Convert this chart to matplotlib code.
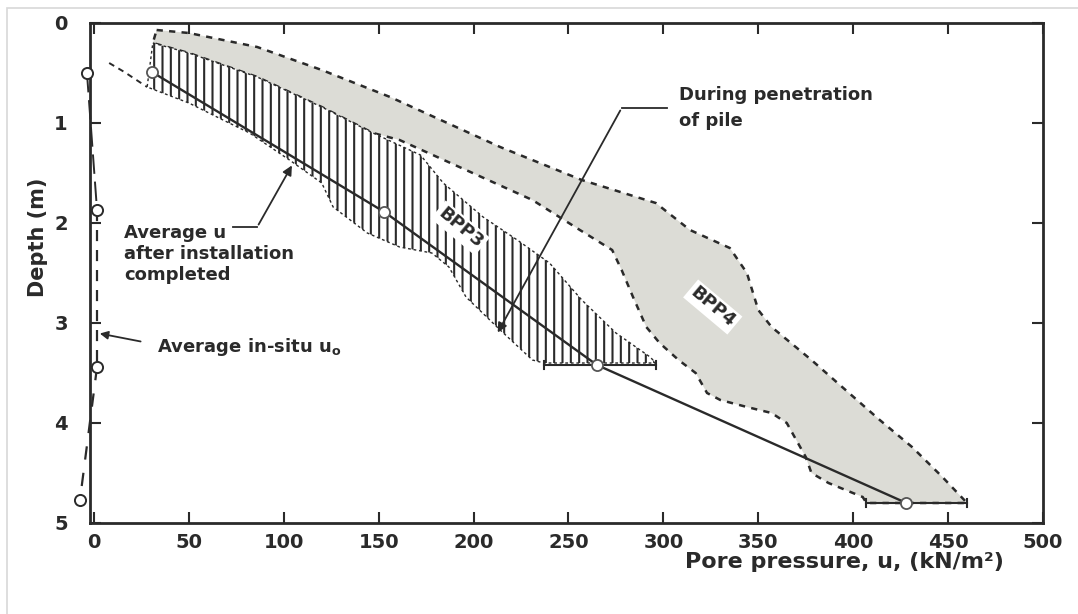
import matplotlib.pyplot as plt
from matplotlib.patches import Polygon, Rectangle

# data: pore pressure (kN/m2) vs depth (m)

# BPP4 band (stippled) - upper edge then lower edge back up
bpp4_upper_u = [33, 50, 86, 120, 156, 214, 257, 296, 314, 335, 344, 350, 357, 378, 396, 414, 431, 447, 460]
bpp4_upper_z = [0.07, 0.10, 0.24, 0.47, 0.74, 1.24, 1.57, 1.80, 2.07, 2.25, 2.50, 2.87, 3.04, 3.37, 3.67, 3.97, 4.24, 4.54, 4.80]
bpp4_lower_u = [407, 405, 387, 378, 375, 370, 365, 357, 344, 330, 323, 317, 308, 298, 291, 284, 278, 273, 256, 231, 196, 161, 147, 120, 86, 50, 31]
bpp4_lower_z = [4.80, 4.74, 4.60, 4.50, 4.34, 4.17, 4.00, 3.90, 3.84, 3.77, 3.70, 3.50, 3.37, 3.20, 3.04, 2.74, 2.47, 2.27, 2.07, 1.77, 1.47, 1.17, 1.10, 0.84, 0.54, 0.30, 0.20]

# BPP3 band (hatched)
bpp3_upper_u = [31, 50, 86, 120, 147, 172, 184, 205, 223, 240, 257, 275, 293, 296]
bpp3_upper_z = [0.20, 0.30, 0.54, 0.84, 1.10, 1.32, 1.60, 1.94, 2.17, 2.40, 2.77, 3.10, 3.34, 3.40]
bpp3_lower_u = [237, 231, 214, 196, 187, 178, 161, 144, 126, 120, 103, 82, 68, 50, 28]
bpp3_lower_z = [3.40, 3.37, 3.07, 2.74, 2.44, 2.30, 2.24, 2.10, 1.84, 1.60, 1.37, 1.10, 0.97, 0.80, 0.64]
bpp3_tail_u = [8, 16, 28]
bpp3_tail_z = [0.40, 0.49, 0.64]

# average u after installation completed
avg_u = [30.5, 153, 265, 428]
avg_z = [0.49, 1.89, 3.42, 4.80]
err_lo = [None, None, 237, 407]
err_hi = [None, None, 296, 460]

# average in-situ u0
insitu_u = [-3.7, 1.6, 1.6, -7.4]
insitu_z = [0.50, 1.87, 3.44, 4.77]

plt.rcParams['font.family'] = 'DejaVu Sans'
plt.rcParams['hatch.linewidth'] = 1.5

fig = plt.figure(figsize=(10.78, 6.14), dpi=100)
ax = fig.add_axes([90 / 1078, 1 - 523 / 614, 953 / 1078, 500 / 614])

ink = '#2a2a2a'

# BPP4
poly4 = Polygon(list(zip(bpp4_upper_u + bpp4_lower_u, bpp4_upper_z + bpp4_lower_z)),
                closed=True, facecolor='#dcdcd6', edgecolor=ink, linestyle=(0, (2.5, 2.5)),
                linewidth=1.8, zorder=1)
ax.add_patch(poly4)

# BPP3
poly3 = Polygon(list(zip(bpp3_upper_u + bpp3_lower_u, bpp3_upper_z + bpp3_lower_z)),
                closed=True, facecolor='white', edgecolor=ink, linestyle=(0, (2, 2)),
                linewidth=1.0, hatch='||', zorder=2)
ax.add_patch(poly3)
ax.plot(bpp3_tail_u, bpp3_tail_z, color=ink, linestyle=(0, (3, 2.5)), linewidth=1.4, zorder=3)

# average u line + circles + range bars
ax.plot(avg_u, avg_z, color=ink, linewidth=1.7, zorder=4)
ax.plot(avg_u, avg_z, 'o', markersize=8, markerfacecolor='white', markeredgecolor='#555555',
        markeredgewidth=1.3, zorder=5)
for lo, hi, z in zip(err_lo, err_hi, avg_z):
    if lo is None:
        continue
    ax.plot([lo, hi], [z, z], color=ink, linewidth=1.5, zorder=4)
    ax.plot([lo, lo], [z - 0.04, z + 0.04], color=ink, linewidth=1.5, zorder=4)
    ax.plot([hi, hi], [z - 0.04, z + 0.04], color=ink, linewidth=1.5, zorder=4)

# in-situ profile
ax.plot(insitu_u[:2], insitu_z[:2], color=ink, linewidth=1.4, linestyle=(0, (10, 4)), clip_on=False, zorder=4)
ax.plot(insitu_u[1:3], insitu_z[1:3], color=ink, linewidth=1.6, linestyle=(0, (5, 4)), clip_on=False, zorder=4)
ax.plot(insitu_u[2:], insitu_z[2:], color=ink, linewidth=1.6, linestyle=(0, (6, 6)), clip_on=False, zorder=4)
ax.plot(insitu_u, insitu_z, 'o', markersize=8, markerfacecolor='white', markeredgecolor=ink,
        markeredgewidth=1.4, clip_on=False, zorder=5)

# labels on the bands
box = dict(boxstyle='square,pad=0.15', facecolor='white', edgecolor='none')
ax.text(193, 2.05, 'BPP3', rotation=-40, ha='center', va='center', fontsize=13,
        fontweight='bold', color=ink, bbox=box, zorder=6)
ax.text(326, 2.84, 'BPP4', rotation=-40, ha='center', va='center', fontsize=13,
        fontweight='bold', color=ink, bbox=box, zorder=6)

# annotations
ax.text(308, 0.85, 'During penetration\nof pile', ha='left', va='center', fontsize=13,
        fontweight='bold', color=ink, linespacing=1.5)
ax.plot([302, 278], [0.85, 0.85], color=ink, linewidth=1.3, zorder=7)
ax.annotate('', xy=(212, 3.12), xytext=(278, 0.85),
            arrowprops=dict(arrowstyle='-|>', color=ink, lw=1.3, mutation_scale=14), zorder=7)

ax.text(16, 2.31, 'Average u\nafter installation\ncompleted', ha='left', va='center',
        fontsize=13, fontweight='bold', color=ink, linespacing=1.25)
ax.plot([73, 86], [2.04, 2.04], color=ink, linewidth=1.3)
ax.annotate('', xy=(105, 1.40), xytext=(86, 2.04),
            arrowprops=dict(arrowstyle='-|>', color=ink, lw=1.3, mutation_scale=14))

ax.text(33, 3.24, 'Average in-situ u$_\\mathbf{o}$', ha='left', va='center',
        fontsize=13, fontweight='bold', color=ink)
ax.annotate('', xy=(1.6, 3.10), xytext=(26, 3.19),
            arrowprops=dict(arrowstyle='-|>', color=ink, lw=1.3, mutation_scale=12))

# axes styling
ax.set_xlim(-2.1, 500)
ax.set_ylim(5, 0)
ax.set_xticks(range(0, 501, 50))
ax.set_yticks(range(0, 6))
ax.tick_params(direction='in', length=8, width=1.5, color=ink, top=True, right=True,
               labelsize=14, labelcolor=ink)
ax.tick_params(axis='y', pad=16)
ax.tick_params(axis='x', pad=7)
for lab in ax.get_xticklabels() + ax.get_yticklabels():
    lab.set_fontweight('bold')
for s in ax.spines.values():
    s.set_linewidth(2.0)
    s.set_color(ink)

ax.set_xlabel('Pore pressure, u, (kN/m²)', fontsize=16, color=ink, fontweight='bold')
ax.xaxis.set_label_coords(0.792, -0.058)
ax.set_ylabel('Depth (m)', fontsize=15, color=ink, fontweight='bold')
ax.yaxis.set_label_coords(-0.044, 0.572)

# light scan border
fig.patches.append(Rectangle((7 / 1078, -0.02), 1.1, 1 - 8 / 614 + 0.02, transform=fig.transFigure,
                             fill=False, edgecolor='#d8d8d8', linewidth=1.2))

fig.savefig('out.png', dpi=100)
